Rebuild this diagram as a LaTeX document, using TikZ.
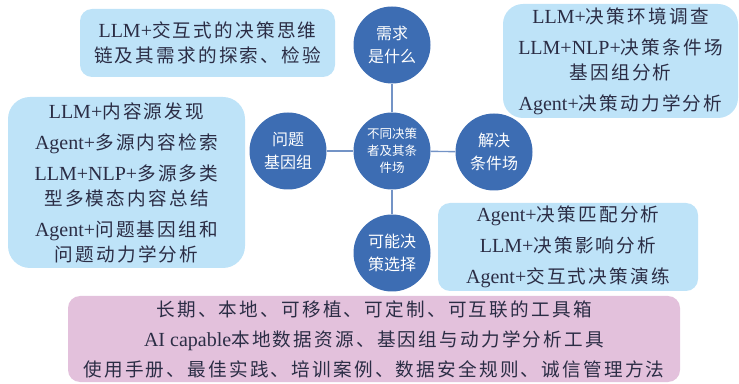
\documentclass[tikz,border=0pt]{standalone}
\usepackage{fontspec}
\setmainfont{Noto Sans CJK SC}[Scale=0.93, LetterSpace=12]
\newfontfamily\enfont{Liberation Serif}
\newfontfamily\circfont{Noto Sans CJK SC}
\newcommand\enx[1]{{\enfont #1}}
\definecolor{boxblue}{HTML}{BEE3F8}
\definecolor{boxpink}{HTML}{E3C1DC}
\definecolor{circblue}{HTML}{3D6DB3}
\definecolor{connblue}{HTML}{7393C6}
\definecolor{txtdark}{HTML}{2B2D45}
\tikzset{
  infobox/.style={fill=boxblue, draw=none, align=center, text=txtdark,
    font={\fontsize{20}{25}\selectfont}, inner sep=0pt},
  toolbox/.style={infobox, fill=boxpink},
  topic/.style={circle, fill=circblue, draw=none, minimum size=77pt, inner sep=0pt,
    align=center, text=white, font={\circfont\fontsize{16}{23}\selectfont}},
  hub/.style={topic, font={\circfont\fontsize{12.5}{17}\selectfont}},
  link/.style={draw=connblue, line width=1.4pt}
}
\begin{document}
\begin{tikzpicture}[x=1pt,y=1pt]
\useasboundingbox (0,0) rectangle (739,383);
% boxes
\node[infobox, minimum width=255pt, minimum height=68pt, rounded corners=12pt] (tl) at (207.5,340)
  {\enx{LLM+}交互式的决策思维\\链及其需求的探索、检验};
\node[infobox, minimum width=237pt, minimum height=171pt, rounded corners=22pt] (lb) at (126.5,200.5)
  {\enx{LLM+}内容源发现\\[6pt]\enx{Agent+}多源内容检索\\[6pt]\enx{LLM+NLP+}多源多类\\型多模态内容总结\\[6pt]\enx{Agent+}问题基因组和\\问题动力学分析};
\node[infobox, minimum width=235pt, minimum height=114pt, rounded corners=20pt] (tr) at (620.5,322)
  {\enx{LLM+}决策环境调查\\[6pt]\enx{LLM+NLP+}决策条件场\\基因组分析\\[6pt]\enx{Agent+}决策动力学分析};
\node[infobox, minimum width=260pt, minimum height=88pt, rounded corners=12pt] (br) at (568,136)
  {\enx{Agent+}决策匹配分析\\[6pt]\enx{LLM+}决策影响分析\\[6pt]\enx{Agent+}交互式决策演练};
\node[toolbox, minimum width=612pt, minimum height=86pt, rounded corners=12pt] (pk) at (374,44)
  {长期、本地、可移植、可定制、可互联的工具箱\\[5pt]\enx{AI capable}本地数据资源、基因组与动力学分析工具\\[5pt]使用手册、最佳实践、培训案例、数据安全规则、诚信管理方法};
% circles
\node[hub] (c) at (392,232) {不同决策\\者及其条\\件场};
\node[topic] (top) at (392,338) {需求\\是什么};
\node[topic] (lft) at (288,232) {问题\\基因组};
\node[topic] (rgt) at (494,231) {解决\\条件场};
\node[topic] (bot) at (392,130) {可能决\\策选择};
% connectors
\draw[link] (top.south) -- (c.north);
\draw[link] (lft.east) -- (c.west);
\draw[link] (c) -- (rgt);
\draw[link] (c.south) -- (bot.north);
\end{tikzpicture}
\end{document}
